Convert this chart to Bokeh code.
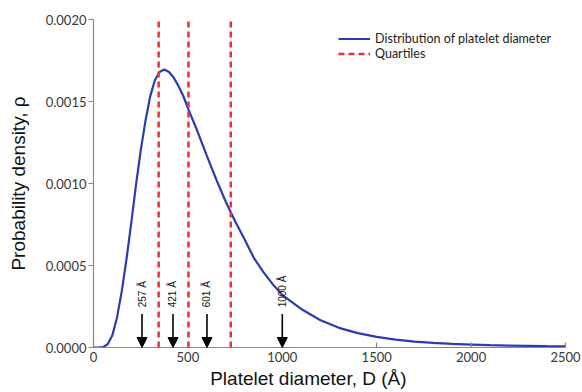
import math
from bokeh.plotting import figure
from bokeh.models import (ColumnDataSource, Arrow, NormalHead, Legend,
                          LegendItem, FixedTicker, NumeralTickFormatter, Range1d)
from bokeh.embed import file_html
from bokeh.resources import INLINE
from bokeh.core.properties import value

# ---- data ----
diameter = [0, 25, 50, 75, 100, 125, 150, 175, 200, 225, 250, 275, 300, 325,
            350, 375, 400, 425, 450, 475, 500, 550, 600, 650, 700, 750, 800,
            850, 900, 950, 1000, 1100, 1200, 1300, 1400, 1500, 1600, 1700,
            1800, 1900, 2000, 2100, 2200, 2300, 2400, 2500]
density = [0.0, 0.0, 0.000002, 0.000020, 0.000075, 0.000185, 0.000345,
           0.000540, 0.000760, 0.000990, 0.001200, 0.001380, 0.001530,
           0.001630, 0.001680, 0.001695, 0.001680, 0.001645, 0.001595,
           0.001535, 0.001460, 0.001320, 0.001170, 0.001025, 0.000890,
           0.000770, 0.000660, 0.000545, 0.000460, 0.000385, 0.000320,
           0.000235, 0.000168, 0.000120, 0.000088, 0.000065, 0.000048,
           0.000036, 0.000028, 0.000022, 0.000018, 0.000014, 0.000012,
           0.000010, 0.000008, 0.000007]
quartiles = [345, 503, 727]
marker_diameters = [257, 421, 601, 1000]
marker_labels = ["257 Å", "421 Å", "601 Å", "1000 Å"]
x_ticks = [0, 500, 1000, 1500, 2000, 2500]
y_ticks = [0.0, 0.0005, 0.001, 0.0015, 0.002]

X_MAX = 2500
Y_MAX = 0.002
ARROW_TOP = 0.000205
LABEL_BASE = 0.000245

p = figure(width=582, height=392, x_range=Range1d(0, X_MAX), y_range=Range1d(0, Y_MAX),
           output_backend="svg", toolbar_location=None,
           min_border_left=93, min_border_right=17, min_border_top=19, min_border_bottom=45)
p.outline_line_color = None
p.xgrid.visible = False
p.ygrid.visible = False
p.background_fill_color = "white"
p.border_fill_color = "white"

axis_color = "#7d8b99"
for ax in (p.xaxis[0], p.yaxis[0]):
    ax.axis_line_color = axis_color
    ax.axis_line_width = 1.2
    ax.major_tick_line_color = axis_color
    ax.major_tick_line_width = 1.2
    ax.minor_tick_line_color = None
    ax.major_label_text_font = "Lato"
    ax.major_label_text_font_size = "13px"
    ax.major_label_text_color = "#383838"
    ax.axis_label_text_font = "Liberation Sans"
    ax.axis_label_text_font_size = "19px"
    ax.axis_label_text_font_style = "normal"
    ax.axis_label_text_color = "#111111"

p.xaxis.ticker = FixedTicker(ticks=x_ticks)
p.xaxis.major_tick_in = 5
p.xaxis.major_tick_out = 0
p.xaxis.major_label_standoff = 4
p.xaxis.axis_label = "Platelet diameter, D (Å)" + "\u00a0" * 8
p.xaxis.axis_label_standoff = 3

p.yaxis.ticker = FixedTicker(ticks=y_ticks)
p.yaxis.formatter = NumeralTickFormatter(format="0.0000")
p.yaxis.major_tick_in = 0
p.yaxis.major_tick_out = 5
p.yaxis.major_label_standoff = 2
p.yaxis.axis_label = "Probability density, ρ"
p.yaxis.axis_label_standoff = 14

curve_src = ColumnDataSource(dict(x=diameter, y=density))
r_curve = p.line("x", "y", source=curve_src, line_color="#2a3cb0", line_width=2.2)

q_src = ColumnDataSource(dict(x=quartiles, y0=[0] * len(quartiles), y1=[Y_MAX] * len(quartiles)))
r_q = p.segment(x0="x", y0="y0", x1="x", y1="y1", source=q_src,
                line_color="#f03030", line_width=2.5, line_dash="6 4")

a_src = ColumnDataSource(dict(x=marker_diameters, y0=[ARROW_TOP] * len(marker_diameters),
                              y1=[0] * len(marker_diameters), ly=[LABEL_BASE] * len(marker_diameters),
                              t=marker_labels))
p.add_layout(Arrow(end=NormalHead(size=10, fill_color="black", line_color="black"),
                   x_start="x", y_start="y0", x_end="x", y_end="y1", source=a_src,
                   line_color="black", line_width=1.6))
p.text(x="x", y="ly", text="t", source=a_src, angle=math.pi / 2,
       text_align="left", text_baseline="middle", text_font=value("Liberation Sans"),
       text_font_size="10px", text_color="#111111")

legend = Legend(items=[LegendItem(label="Distribution of platelet diameter", renderers=[r_curve]),
                       LegendItem(label="Quartiles", renderers=[r_q])],
                location=(245, 286), margin=0, padding=0, spacing=0,
                glyph_width=32, glyph_height=15, label_height=15, label_standoff=5,
                label_text_font="Lato", label_text_font_size="12.5px", label_text_color="#222222",
                border_line_color=None, background_fill_alpha=0)
p.add_layout(legend, "center")

open("out.html", "w").write(file_html(p, INLINE))
